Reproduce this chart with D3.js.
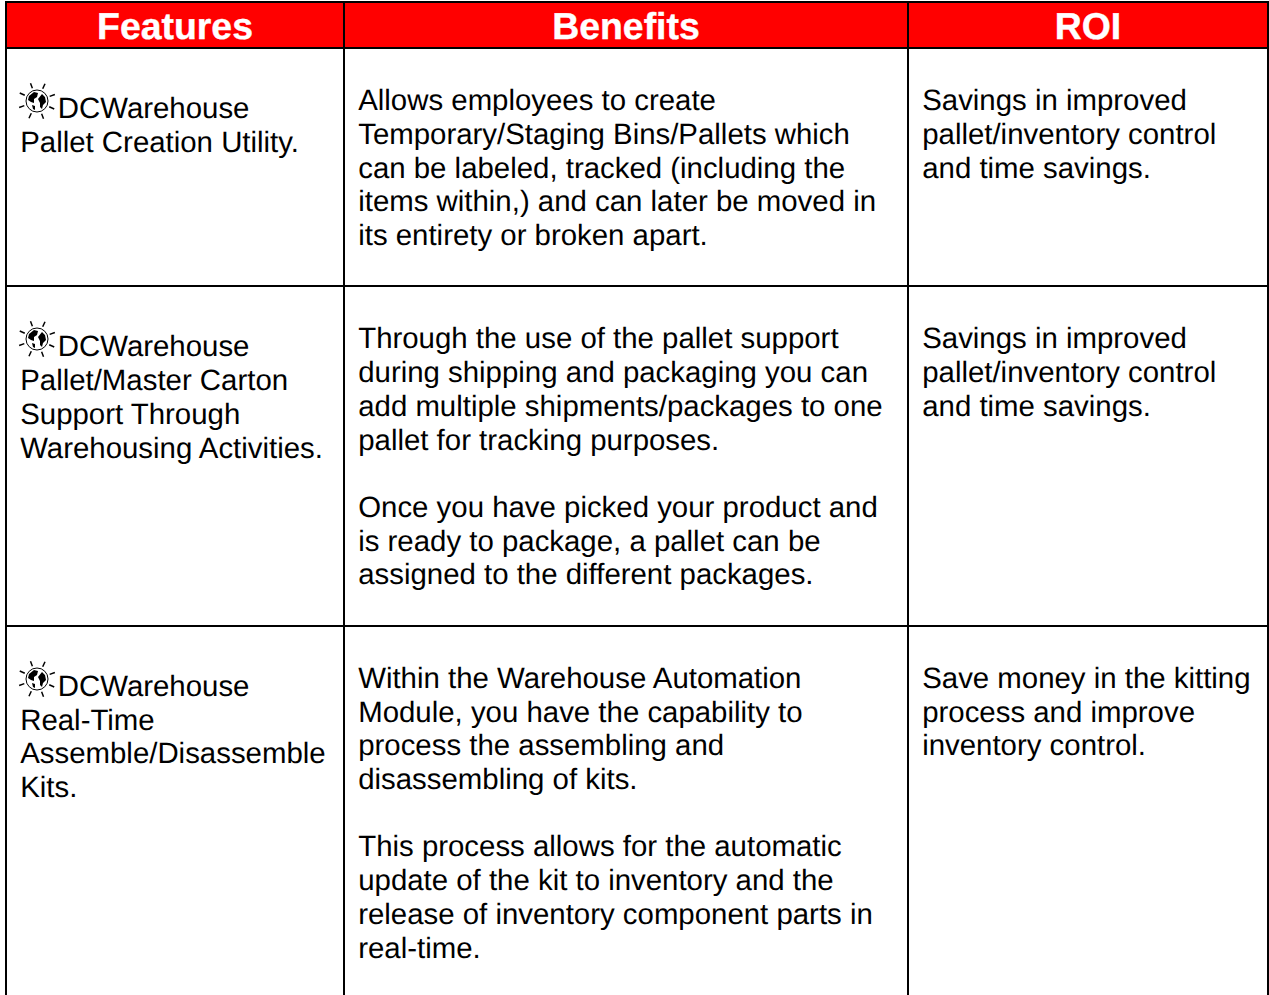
<!DOCTYPE html>
<html>
<head>
<meta charset="utf-8">
<script src="https://cdn.jsdelivr.net/npm/d3@7"></script>
<style>
  html, body { margin: 0; padding: 0; background: #fff; overflow: hidden; }
  text { font-family: "Liberation Sans", Arial, sans-serif; text-rendering: geometricPrecision; }
</style>
</head>
<body>
<svg id="chart" width="1269" height="995"></svg>
<script>
const headers = ['Features', 'Benefits', 'ROI'];

const features = [
  ['DCWarehouse', 'Pallet Creation Utility.'],
  ['DCWarehouse', 'Pallet/Master Carton', 'Support Through', 'Warehousing Activities.'],
  ['DCWarehouse', 'Real-Time', 'Assemble/Disassemble', 'Kits.'],
];

const benefits = [
  ['Allows employees to create', 'Temporary/Staging Bins/Pallets which', 'can be labeled, tracked (including the',
    'items within,) and can later be moved in', 'its entirety or broken apart.'],
  ['Through the use of the pallet support', 'during shipping and packaging you can',
    'add multiple shipments/packages to one', 'pallet for tracking purposes.', '',
    'Once you have picked your product and', 'is ready to package, a pallet can be',
    'assigned to the different packages.'],
  ['Within the Warehouse Automation', 'Module, you have the capability to', 'process the assembling and',
    'disassembling of kits.', '', 'This process allows for the automatic', 'update of the kit to inventory and the',
    'release of inventory component parts in', 'real-time.'],
];

const roi = [
  ['Savings in improved', 'pallet/inventory control', 'and time savings.'],
  ['Savings in improved', 'pallet/inventory control', 'and time savings.'],
  ['Save money in the kitting', 'process and improve', 'inventory control.'],
];

const columnEdges = [6, 344, 908, 1268];
const rowEdges = [2, 48, 286, 626, 1000];
const rowNudge = [0.3, 0.4, -0.2];
const lineHeight = 33.72;
const fontSize = 29.4;

const svg = d3.select('#chart');

const rowIndex = d3.range(rowEdges.length);
const colIndex = d3.range(columnEdges.length);
const x = d3.scaleOrdinal().domain(colIndex).range(columnEdges);
const y = d3.scaleOrdinal().domain(rowIndex).range(rowEdges);

// red header band
svg.append('g')
  .selectAll('rect')
  .data(headers)
  .join('rect')
  .attr('x', (d, i) => x(i))
  .attr('y', y(0))
  .attr('width', (d, i) => x(i + 1) - x(i))
  .attr('height', y(1) - y(0))
  .attr('fill', '#ff0000');

svg.append('g')
  .selectAll('text')
  .data(headers)
  .join('text')
  .attr('x', (d, i) => (x(i) + x(i + 1)) / 2)
  .attr('y', 39)
  .attr('text-anchor', 'middle')
  .attr('fill', '#fff')
  .attr('stroke', '#fff')
  .attr('stroke-width', 0.4)
  .attr('font-size', 37.4)
  .attr('font-weight', 'bold')
  .text((d) => d);

// grid lines
const grid = svg.append('g').attr('stroke', '#000').attr('stroke-width', 2);
grid.selectAll('line.col')
  .data(colIndex)
  .join('line')
  .attr('class', 'col')
  .attr('x1', (i) => x(i))
  .attr('x2', (i) => x(i))
  .attr('y1', y(0) - 1)
  .attr('y2', 995);
grid.selectAll('line.row')
  .data(rowIndex.slice(0, 4))
  .join('line')
  .attr('class', 'row')
  .attr('x1', x(0))
  .attr('x2', x(3))
  .attr('y1', (i) => y(i))
  .attr('y2', (i) => y(i));

// cell text, one column at a time
const addColumn = (cells, col, firstBaseline, pad) => {
  cells.forEach((lines, r) => {
    svg.append('g')
      .selectAll('text')
      .data(lines)
      .join('text')
      .attr('x', (d, i) => x(col) + pad + (col === 0 && i === 0 ? 37.6 : 0))
      .attr('y', (d, i) => y(r + 1) + firstBaseline + rowNudge[r] + i * lineHeight)
      .attr('font-size', fontSize)
      .attr('fill', '#000')
      .text((d) => d);
  });
};

addColumn(features, 0, 70, 14.2);
addColumn(benefits, 1, 62, 14.2);
addColumn(roi, 2, 62, 14.2);

// little globe icon in front of each feature name
const continents = [
  'M-8 -5 L-3 -9 L1 -8 L0 -4 L-3 -2 L-3 2 L-6 1 L-9 -1 Z',
  'M1 -2 L5 -7 L8 -4 L9 1 L6 4 L5 8 L3 6 L3 2 Z',
  'M-5 4 L-2 5 L-2 9 L-4 8 Z',
];
const rays = d3.range(8).map((i) => -110 + i * 45);

[0, 1, 2].forEach((r) => {
  const icon = svg.append('g')
    .attr('transform', `translate(37,${y(r + 1) + 53})`);
  icon.append('circle').attr('r', 11).attr('fill', '#fff').attr('stroke', '#000').attr('stroke-width', 1);
  icon.selectAll('path')
    .data(continents)
    .join('path')
    .attr('d', (d) => d)
    .attr('fill', '#000');
  icon.selectAll('line')
    .data(rays)
    .join('line')
    .attr('x1', (a) => 13.5 * Math.cos(a * Math.PI / 180))
    .attr('y1', (a) => 13.5 * Math.sin(a * Math.PI / 180))
    .attr('x2', (a) => 19 * Math.cos(a * Math.PI / 180))
    .attr('y2', (a) => 19 * Math.sin(a * Math.PI / 180))
    .attr('stroke', '#000')
    .attr('stroke-width', 1.5);
});
</script>
</body>
</html>
